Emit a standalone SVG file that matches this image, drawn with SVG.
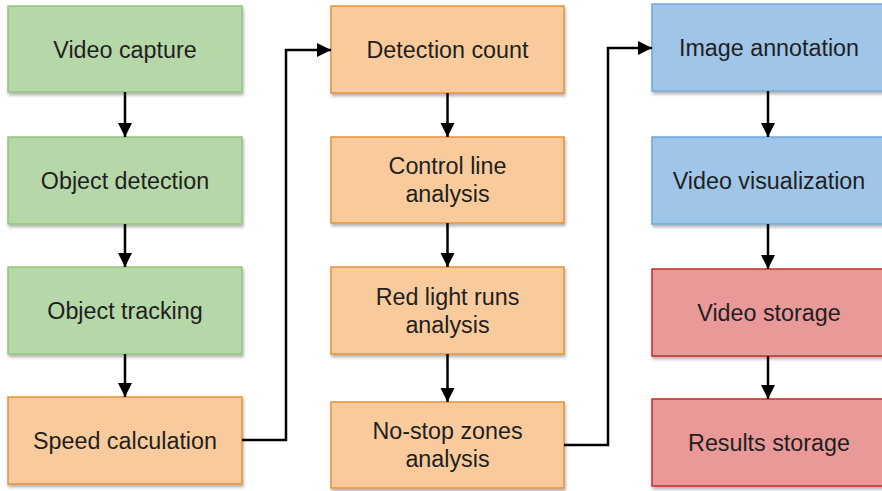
<svg xmlns="http://www.w3.org/2000/svg" width="882" height="491" viewBox="0 0 882 491">
<defs>
<filter id="sh" x="-5%" y="-5%" width="115%" height="120%">
<feDropShadow dx="1" dy="2.5" stdDeviation="1.5" flood-color="#000" flood-opacity="0.3"/>
</filter>
<marker id="ah" markerWidth="16" markerHeight="16" refX="14" refY="7.5" orient="auto" markerUnits="userSpaceOnUse">
<path d="M0,0.5 L14,7.5 L0,14.5 Z" fill="#000"/>
</marker>
<style>
.box{stroke-width:1.5;filter:url(#sh)}
.g{fill:#b6d7a8;stroke:#93c47d}
.o{fill:#f9cb9c;stroke:#e69138}
.b{fill:#9fc5e8;stroke:#6fa8dc}
.r{fill:#ea9999;stroke:#cc2a2a}
text{font-family:"Liberation Sans",Arial,sans-serif;font-size:23.3px;fill:#1f1f1f;text-anchor:middle}
.c{fill:none;stroke:#000;stroke-width:2.5;marker-end:url(#ah)}
</style>
</defs>
<g id="n1"><rect class="box g" x="8" y="6" width="234" height="86"/><text x="125" y="57.5">Video capture</text></g>
<g id="n2"><rect class="box g" x="8" y="137" width="234" height="87"/><text x="125" y="188.5">Object detection</text></g>
<g id="n3"><rect class="box g" x="8" y="267" width="234" height="87"/><text x="125" y="318.5">Object tracking</text></g>
<g id="n4"><rect class="box o" x="8" y="397" width="234" height="87"/><text x="125" y="448.5">Speed calculation</text></g>
<g id="n5"><rect class="box o" x="331" y="6" width="233" height="87"/><text x="447.5" y="57.5">Detection count</text></g>
<g id="n6"><rect class="box o" x="331" y="137" width="233" height="86"/><text x="447.5" y="174">Control line</text><text x="447.5" y="202">analysis</text></g>
<g id="n7"><rect class="box o" x="331" y="267" width="233" height="87"/><text x="447.5" y="304.5">Red light runs</text><text x="447.5" y="332.5">analysis</text></g>
<g id="n8"><rect class="box o" x="331" y="402" width="233" height="86"/><text x="447.5" y="439">No-stop zones</text><text x="447.5" y="467">analysis</text></g>
<g id="n9"><rect class="box b" x="652" y="4" width="236" height="87"/><text x="769" y="55.5">Image annotation</text></g>
<g id="n10"><rect class="box b" x="652" y="137" width="236" height="87"/><text x="769" y="188.5">Video visualization</text></g>
<g id="n11"><rect class="box r" x="652" y="269" width="236" height="87"/><text x="769" y="320.5">Video storage</text></g>
<g id="n12"><rect class="box r" x="652" y="399" width="236" height="87"/><text x="769" y="450.5">Results storage</text></g>
<g id="connectors">
<path class="c" d="M125,92 V137"/>
<path class="c" d="M125,224 V267"/>
<path class="c" d="M125,354 V397"/>
<path class="c" d="M242,440 H286 V50 H331"/>
<path class="c" d="M447.5,93 V137"/>
<path class="c" d="M447.5,223 V267"/>
<path class="c" d="M447.5,354 V402"/>
<path class="c" d="M564,445 H608 V48 H652"/>
<path class="c" d="M768,91 V137"/>
<path class="c" d="M768,224 V269"/>
<path class="c" d="M768,356 V399"/>
</g>
</svg>
